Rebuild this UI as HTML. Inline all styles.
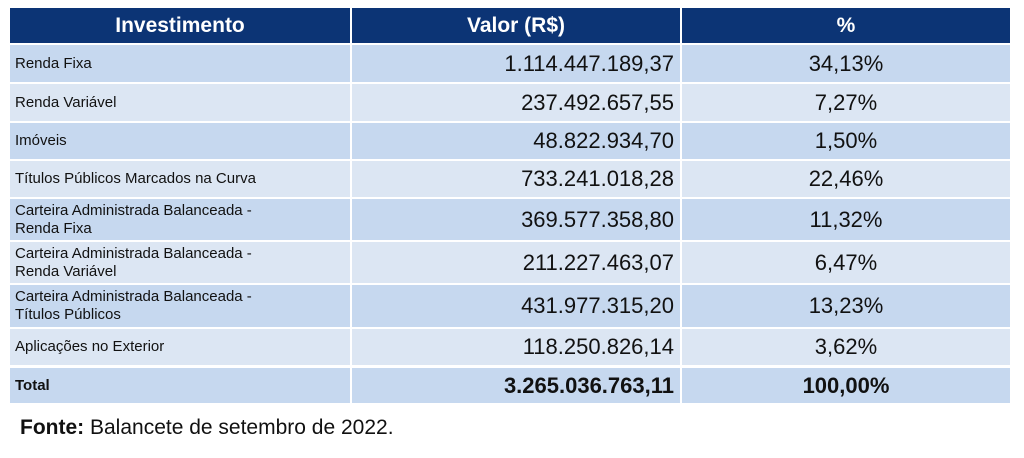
<!DOCTYPE html>
<html><head><meta charset="utf-8"><style>
body{margin:0;width:1024px;height:458px;background:#fff;position:relative;font-family:"Liberation Sans",sans-serif;overflow:hidden}
.c{position:absolute;box-sizing:border-box;display:flex;align-items:center;color:#111}
.h{background:#0c3475;color:#fff;font-weight:bold;font-size:21px;justify-content:center}
.n{font-size:15px;padding-left:5px;line-height:18px}
.v{font-size:22px;justify-content:flex-end;padding-right:6px}
.p{font-size:22px;justify-content:center}
.a{background:#c6d8ef}.b{background:#dce6f3}
.t{font-weight:bold}
</style></head><body>
<div id="tbl"></div>
<div style="position:absolute;left:20px;top:416px;font-size:21px;color:#111"><b>Fonte:</b> Balancete de setembro de 2022.</div>
<script>
const names=["Renda Fixa","Renda Variável","Imóveis","Títulos Públicos Marcados na Curva","Carteira Administrada Balanceada -<br>Renda Fixa","Carteira Administrada Balanceada -<br>Renda Variável","Carteira Administrada Balanceada -<br>Títulos Públicos","Aplicações no Exterior"];
const values=["1.114.447.189,37","237.492.657,55","48.822.934,70","733.241.018,28","369.577.358,80","211.227.463,07","431.977.315,20","118.250.826,14"];
const pcts=["34,13%","7,27%","1,50%","22,46%","11,32%","6,47%","13,23%","3,62%"];
const tops=[45,84,123,161,199,242,285,329],hs=[37,37,36,36,41,41,42,36];
const t=document.getElementById('tbl');
function cell(cls,x,y,w,h,html,name){const d=document.createElement('div');d.className='c '+cls;d.style.cssText=`left:${x}px;top:${y}px;width:${w}px;height:${h}px`;d.innerHTML=html;


t.appendChild(d);}
const X=[10,352,682],W=[340,328,328];
cell('h',X[0],8,W[0],35,'Investimento','header-investimento');
cell('h',X[1],8,W[1],35,'Valor (R$)','header-valor');
cell('h',X[2],8,W[2],35,'%','header-percent');
names.forEach((n,i)=>{const bg=i%2?'b':'a';
cell(bg+' n',X[0],tops[i],W[0],hs[i],n,'row-name');
cell(bg+' v',X[1],tops[i],W[1],hs[i],values[i],'row-value');
cell(bg+' p',X[2],tops[i],W[2],hs[i],pcts[i],'row-percent');});
cell('a n t',X[0],368,W[0],35,'Total','total-label');
cell('a v t',X[1],368,W[1],35,'3.265.036.763,11','total-value');
cell('a p t',X[2],368,W[2],35,'100,00%','total-percent');
</script>
</body></html>
